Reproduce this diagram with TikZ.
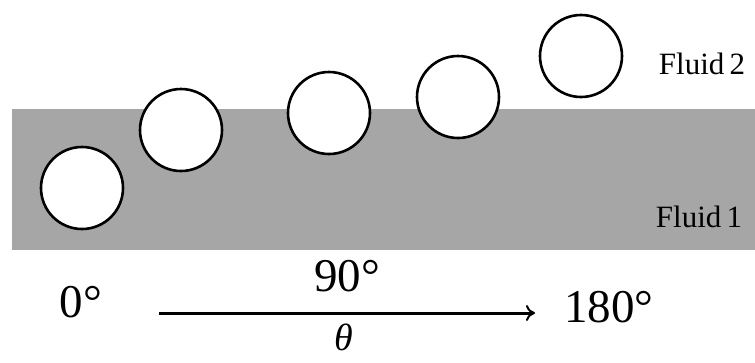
\documentclass[tikz,border=0pt]{standalone}
\usepackage{fontspec}
\setmainfont{Liberation Serif}
\usetikzlibrary{arrows.meta}
\definecolor{fluidgray}{RGB}{166,166,166}

\begin{document}
\begin{tikzpicture}[x=1pt, y=-1pt,
  bubble/.style={draw, line width=2.6pt, fill=white, circle, minimum size=82pt,
                 inner sep=0pt},
  fluidlabel/.style={inner sep=0pt, font=\fontsize{31}{31}\selectfont},
  anglelabel/.style={inner sep=0pt, font=\fontsize{47}{47}\selectfont},
  >={To[length=9pt, width=16pt, line width=2pt]}]
  \useasboundingbox (0,0) rectangle (755,362);
  % the two fluids
  \fill[fluidgray] (12,109) rectangle (755,250);
  \node[fluidlabel] (f2) at (702,64) {Fluid\,2};
  \node[fluidlabel] (f1) at (699,217) {Fluid\,1};
  % bubbles crossing the interface
  \node[bubble] (b1) at (82,188) {};
  \node[bubble] (b2) at (181,130) {};
  \node[bubble] (b3) at (329,113) {};
  \node[bubble] (b4) at (458,97) {};
  \node[bubble] (b5) at (581,56) {};
  % angle axis
  \node[anglelabel] (a0) at (81,302) {0°};
  \node[anglelabel] (a90) at (347,276) {90°};
  \node[anglelabel] (a180) at (609,307) {180°};
  \coordinate (start) at (159,313);
  \coordinate (end) at (535,313);
  \draw[->, line width=3pt] (start) -- (end);
  \node[anglelabel, anchor=south, font=\fontsize{38}{38}\itshape] (theta) at (344,351) {θ};
\end{tikzpicture}
\end{document}
